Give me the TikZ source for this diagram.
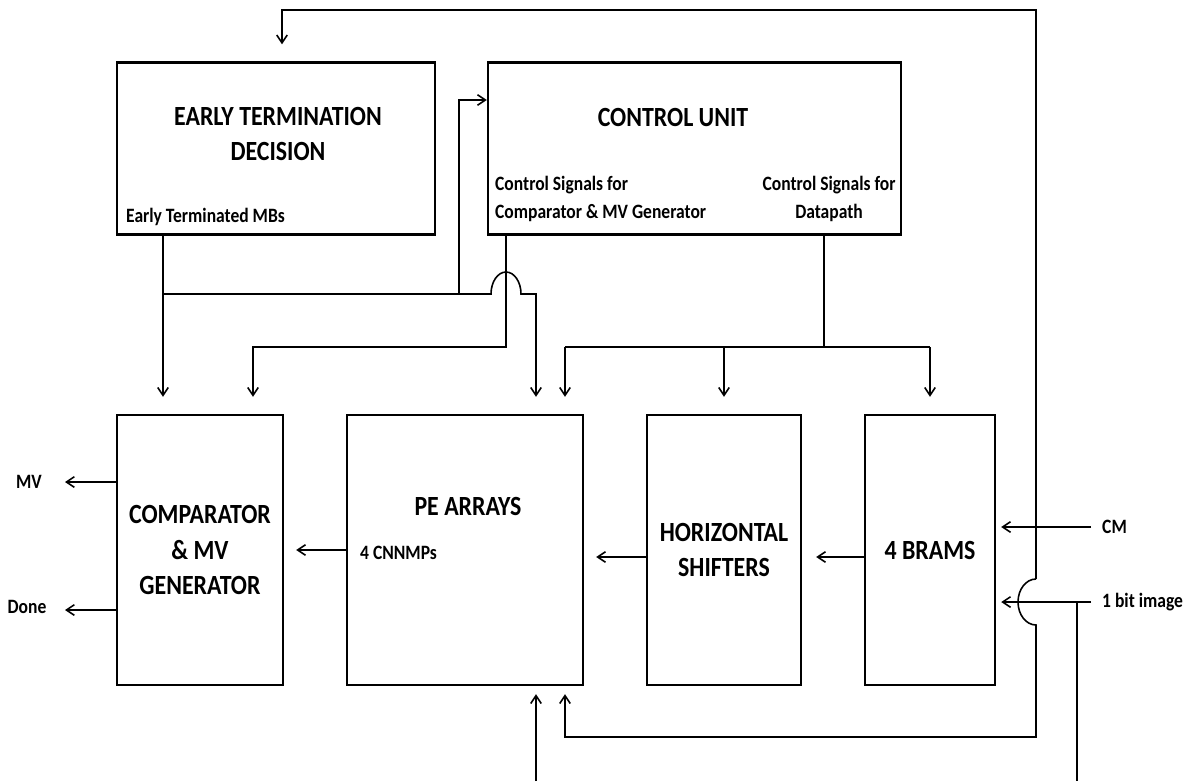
\documentclass[tikz,border=0pt]{standalone}
\usepackage{fontspec}
\setmainfont{Carlito}[FakeStretch=0.86]
\usetikzlibrary{arrows.meta}

\tikzset{
  blk/.style={draw, line width=1.4pt, minimum width=#1, minimum height=5.4cm, inner sep=0pt},
  ttl/.style={font=\fontsize{15.8}{20}\selectfont\bfseries, align=center},
  lbl/.style={font=\fontsize{11.6}{15.5}\selectfont\bfseries},
  wire/.style={line width=0.9pt},
  sig/.style={wire, -{Straight Barb[length=4.5pt,width=6pt]}},
  gap/.style={shorten >=#1},
}

\begin{document}
\begin{tikzpicture}[x=0.02cm, y=-0.02cm]
\useasboundingbox (0,0) rectangle (1192,781);
% blocks
\node [blk=6.36cm, minimum height=3.44cm] (etd) at (276,148.5) {};
\node [blk=8.26cm, minimum height=3.44cm] (cu) at (694.5,148.5) {};
\node [blk=3.32cm, ttl] (cmp) at (200,550) {COMPARATOR\\\& MV\\GENERATOR};
\node [blk=4.72cm] (pe) at (465,550) {};
\node [blk=3.08cm, ttl] (hs) at (724,550) {HORIZONTAL\\SHIFTERS};
\node [blk=2.6cm, ttl] (bram) at (930,550) {4 BRAMS};
% texts
\node [ttl] (etdtxt) at (278,134) {EARLY TERMINATION\\DECISION};
\node [ttl] (cutxt) at (673,117) {CONTROL UNIT};
\node [lbl, anchor=west] (etmb) at (120,217) {Early Terminated MBs};
\node [lbl, align=left, anchor=west] (cscmp) at (489,199) {Control Signals for\\Comparator \& MV Generator};
\node [lbl, align=center] (csdp) at (829,199) {Control Signals for\\Datapath};
\node [ttl] (petxt) at (468,506) {PE ARRAYS};
\node [lbl, anchor=west] (cnn) at (354,553) {4 CNNMPs};
\node [lbl] (mv) at (29,482) {MV};
\node [lbl] (done) at (27,607) {Done};
\node [lbl, anchor=west] (cm) at (1096,527) {CM};
\node [lbl, anchor=west] (bit) at (1096,602) {1 bit image};
% points
\coordinate (etj) at (163,294);
\coordinate (brg) at (491,294);
\coordinate (pej) at (536,294);
\coordinate (cuj) at (459,294);
\coordinate (cuk) at (459,100);
\coordinate (cmj) at (506,347);
\coordinate (cmk) at (253,347);
\coordinate (dpj) at (824,347);
\coordinate (dpl) at (565,347);
\coordinate (dpr) at (930,347);
\coordinate (mvt) at (65,482);
\coordinate (dnt) at (65,610);
\coordinate (fbm) at (1036,579);
\coordinate (fbt) at (1036,10);
\coordinate (fbl) at (282,10);
\coordinate (fbb) at (1036,737);
\coordinate (fbk) at (565,737);
\coordinate (pein) at (536,781);
\coordinate (bitj) at (1077,602);
\coordinate (bitb) at (1077,781);
% control and early termination
\draw [sig, gap=0.34cm] (etd.south -| etj) -- (etj) -- (cmp.north -| etj);
\draw [sig, gap=0.34cm] (etj) -- (brg) arc[start angle=180, end angle=0, x radius=0.3cm, y radius=0.44cm] -- (pej) -- (pe.north -| pej);
\draw [sig] (cuj) -- (cuk) -- (cu.west |- cuk);
\draw [sig, gap=0.34cm] (cu.south -| cmj) -- (cmj) -- (cmk) -- (cmp.north -| cmk);
\draw [wire] (cu.south -| dpj) -- (dpj);
\draw [wire] (dpl) -- (dpr);
\draw [sig, gap=0.34cm] (dpl) -- (pe.north -| dpl);
\draw [sig, gap=0.34cm] (hs |- dpj) -- (hs.north);
\draw [sig, gap=0.34cm] (dpr) -- (bram.north -| dpr);
% datapath
\draw [sig, gap=0.24cm] (pe.west) -- (cmp.east);
\draw [sig, gap=0.24cm] ([yshift=-0.14cm]hs.west) -- ([yshift=-0.14cm]hs.west -| pe.east);
\draw [sig, gap=0.28cm] ([yshift=-0.14cm]bram.west) -- ([yshift=-0.14cm]bram.west -| hs.east);
\draw [sig] (cmp.west |- mvt) -- (mvt);
\draw [sig] (cmp.west |- dnt) -- (dnt);
% inputs
\draw [sig, gap=0.1cm, shorten <=0.1cm] (cm.west) -- (cm.west -| bram.east);
\draw [sig, gap=0.1cm, shorten <=0.1cm] (bit.west) -- (bit.west -| bram.east);
\draw [wire] (bitj) -- (bitb);
\draw [sig, gap=0.16cm] (pein) -- (pe.south -| pein);
% feedback
\draw [sig, gap=0.34cm] (fbm) -- (fbt) -- (fbl) -- (etd.north -| fbl);
\draw [sig, gap=0.16cm] (fbm) arc[start angle=90, end angle=270, x radius=0.36cm, y radius=0.46cm] -- (fbb) -- (fbk) -- (pe.south -| fbk);
\end{tikzpicture}
\end{document}
